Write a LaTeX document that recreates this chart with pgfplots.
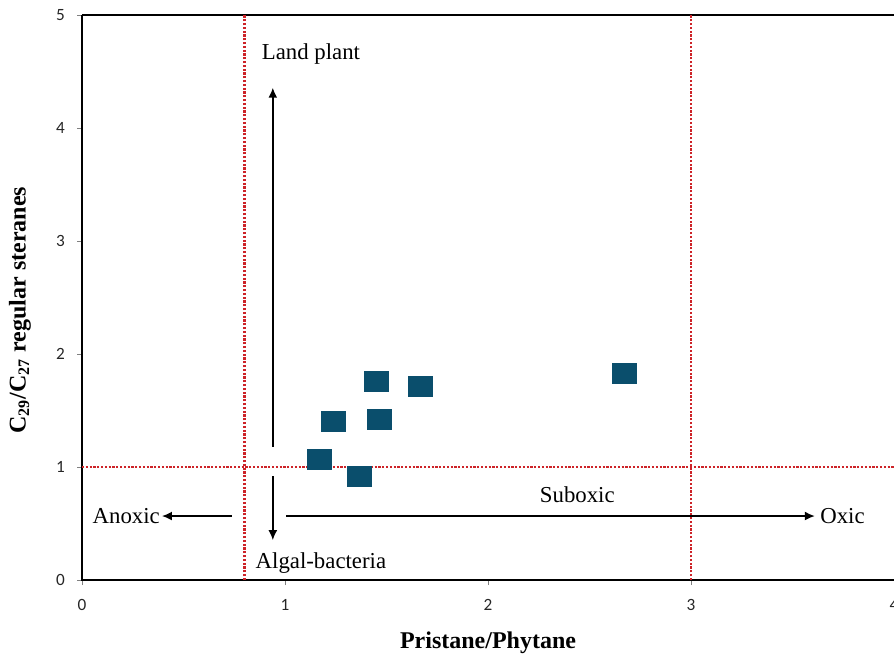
\documentclass[border=0pt]{standalone}
\usepackage{fontspec}
\setmainfont{Liberation Serif}
\newfontfamily\tickfont{Carlito}
\usepackage{pgfplots}
\pgfplotsset{compat=1.18}
\usetikzlibrary{arrows.meta}
\definecolor{sq}{RGB}{10,78,108}
\definecolor{rl}{RGB}{205,35,40}
\begin{document}
\begin{tikzpicture}
\begin{axis}[
  scale only axis, width=406pt, height=282.3pt,
  xmin=0, xmax=4, ymin=0, ymax=5,
  xtick={0,1,2,3,4}, ytick={0,1,2,3,4,5},
  xtick pos=left, ytick pos=left,
  tick align=outside, major tick length=2.5pt,
  tick style={gray, line width=0.4pt},
  /pgf/number format/assume math mode=true,
  ticklabel style={font=\tickfont\fontsize{8.6}{10}\selectfont, text=black!85},
  xticklabel style={yshift=-3.5pt},
  yticklabel style={xshift=-2.5pt},
  axis line style={draw=none},
  clip=false,
  every axis x label/.style={at={(axis description cs:0.5,-0.1116)}, anchor=center},
  every axis y label/.style={at={(axis description cs:-0.0764,0.478)}, rotate=90, anchor=center},
  xlabel={\fontsize{12}{14}\selectfont\bfseries Pristane/Phytane},
  ylabel={\fontsize{12}{14}\selectfont\bfseries C$_{\mathbf{29}}$/C$_{\mathbf{27}}$ regular steranes},
]
% frame
\draw[line width=1pt] (axis cs:0,5) -- (axis cs:0,0) -- (axis cs:4,0);
\draw[line width=1pt] (axis cs:0,5) -- (axis cs:4,5);
\draw[gray!70, line width=0.4pt] (axis cs:4,0) -- (axis cs:4,5);
% red dotted thresholds
\addplot[rl, line width=1.2pt, dash pattern=on 1.1pt off 0.8pt] coordinates {(0.8,0) (0.8,5)};
\addplot[rl, line width=1.2pt, dash pattern=on 1.1pt off 0.8pt] coordinates {(3,0) (3,5)};
\addplot[rl, line width=1.2pt, dash pattern=on 1.1pt off 0.8pt] coordinates {(0,1) (4,1)};
% arrows
\addplot[black, line width=0.75pt, -{Latex[length=5pt,width=4.5pt]}] coordinates {(0.94,1.18) (0.94,4.36)};
\addplot[black, line width=0.75pt, -{Latex[length=5pt,width=4.5pt]}] coordinates {(0.94,0.92) (0.94,0.354)};
\addplot[black, line width=0.75pt, -{Latex[length=5pt,width=4.5pt]}] coordinates {(0.737,0.567) (0.394,0.567)};
\addplot[black, line width=0.75pt, -{Latex[length=5pt,width=4.5pt]}] coordinates {(1.005,0.567) (3.61,0.567)};
% data
\addplot[only marks, mark=square*, mark size=5pt, color=sq, mark options={xscale=1.2}] coordinates {
(1.451,1.761) (1.668,1.711) (1.238,1.409) (1.463,1.425) (1.167,1.071) (1.365,0.914) (2.671,1.829)
};
% annotations
\node[font=\fontsize{11.4}{13}\selectfont] at (axis cs:1.128,4.66) {Land plant};
\node[font=\fontsize{11.4}{13}\selectfont, anchor=east, inner sep=0pt] at (axis cs:0.385,0.567) {Anoxic};
\node[font=\fontsize{11.4}{13}\selectfont] at (axis cs:1.177,0.15) {Algal-bacteria};
\node[font=\fontsize{11.4}{13}\selectfont] at (axis cs:2.44,0.753) {Suboxic};
\node[font=\fontsize{11.4}{13}\selectfont, anchor=west, inner sep=0pt] at (axis cs:3.635,0.567) {Oxic};
\coordinate (bbsw) at (axis cs:-0.404,-0.664);
\coordinate (bbne) at (axis cs:4,5.137);
\end{axis}
\pgfresetboundingbox
\path[use as bounding box] (bbsw) rectangle (bbne);
\end{tikzpicture}
\end{document}
